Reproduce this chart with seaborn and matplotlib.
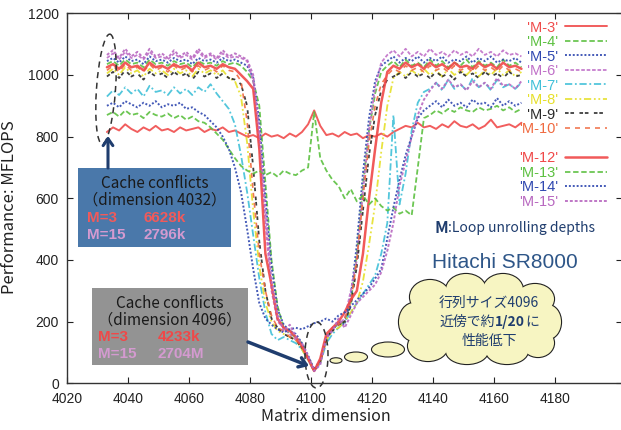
import matplotlib
matplotlib.use("Agg")
import matplotlib.pyplot as plt
import seaborn as sns
from matplotlib.patches import Ellipse, Rectangle, FancyArrowPatch
from matplotlib.lines import Line2D
from matplotlib import font_manager

# sample points (matrix dimension), every second value
dims = list(range(4033, 4170, 2))

m3 = [815, 830, 820, 840, 825, 815, 830, 820, 835, 820, 825, 815, 830, 820, 825, 830, 815, 825, 820, 830, 815,
      820, 810, 800, 805, 795, 810, 800, 805, 795, 810, 800, 815, 840, 885, 835, 805, 810, 800, 815, 805, 810,
      795, 805, 800, 810, 800, 815,
      825, 835, 830, 845, 830, 835, 825, 840, 830, 850, 835, 830, 840, 825, 835, 855, 830, 835, 840, 830, 845]
m4 = [1035, 1045, 1030, 1050, 1035, 1040, 1025, 1050, 1035, 1040, 1030, 1045, 1035, 1040, 1025, 1045, 1035,
      1040, 1030, 1045, 1035, 1040,
      1030, 1010, 980, 900, 650, 400, 250, 180, 160, 150, 130, 85, 45, 70, 140, 180, 190, 200, 260, 420, 640,
      820, 940, 1010,
      1030, 1045, 1025, 1050, 1030, 1040, 1025, 1050, 1030, 1045, 1025, 1040, 1030, 1050, 1025, 1045, 1030,
      1040, 1025, 1050, 1030, 1040, 1025]
m5 = [1045, 1055, 1040, 1060, 1045, 1050, 1035, 1060, 1045, 1050, 1040, 1055, 1045, 1050, 1035, 1055, 1045,
      1050, 1040, 1055, 1045, 1050,
      1040, 1030, 990, 850, 600, 380, 240, 190, 170, 160, 130, 90, 45, 75, 150, 170, 200, 190, 280, 450, 680,
      860, 980, 1030,
      1045, 1060, 1040, 1055, 1045, 1060, 1040, 1055, 1045, 1060, 1040, 1050, 1045, 1060, 1040, 1055, 1045,
      1060, 1040, 1050, 1045, 1055, 1040]
m6 = [1055, 1070, 1050, 1075, 1055, 1065, 1050, 1075, 1055, 1060, 1050, 1070, 1055, 1065, 1050, 1075, 1055,
      1065, 1050, 1070, 1055, 1060,
      1055, 1045, 980, 780, 520, 300, 200, 180, 160, 140, 120, 80, 40, 70, 140, 180, 190, 210, 300, 400, 620,
      820, 960, 1040,
      1065, 1080, 1060, 1085, 1060, 1075, 1060, 1085, 1065, 1075, 1060, 1080, 1065, 1075, 1060, 1085, 1065,
      1075, 1060, 1080, 1065, 1070, 1060]
m7 = [930, 950, 935, 960, 940, 955, 930, 965, 945, 950, 935, 960, 940, 955, 935, 960, 945, 970,
      940, 915, 890, 840, 740, 620, 480, 340, 230, 160, 140, 150, 140, 130, 110, 75, 40, 65, 130, 160, 180,
      200, 230, 260, 290, 320, 350, 420, 520, 870, 580, 680, 820, 910, 945,
      955, 975, 950, 985, 955, 970, 950, 990, 960, 975, 950, 985, 960, 970, 955, 975]
m8 = [1005, 1020, 1000, 1025, 1005, 1015, 995, 1020, 1005, 1015, 1000, 1020, 1005, 1015, 995, 1020, 1005,
      1015, 1000, 1015, 990, 980,
      930, 780, 560, 380, 260, 200, 170, 160, 150, 140, 110, 75, 40, 70, 140, 170, 180, 200, 230, 260, 330,
      450, 580, 750, 900, 990,
      1010, 995, 1015, 1000, 1020, 1000, 1015, 995, 1020, 1000, 1015, 1000, 1020, 995, 1015, 1000, 1020, 1000,
      1015, 995, 1010]
m9 = [995, 1010, 990, 1015, 995, 1005, 985, 1010, 995, 1005, 990, 1010, 995, 1005, 985, 1010, 995, 1005,
      990, 1005, 990, 985,
      970, 900, 700, 460, 300, 210, 180, 160, 150, 140, 115, 80, 40, 70, 150, 170, 190, 200, 250, 380, 560,
      740, 870, 950, 985, 995,
      1005, 990, 1010, 995, 1005, 990, 1010, 995, 1005, 985, 1010, 995, 1005, 990, 1010, 995, 1005, 990, 1010,
      995, 1000]
m10 = [1015, 1030, 1010, 1035, 1015, 1025, 1010, 1035, 1015, 1025, 1010, 1030, 1015, 1025, 1010, 1030, 1015,
       1025, 1010, 1030, 1015, 1010,
       980, 850, 620, 420, 300, 220, 180, 170, 150, 140, 120, 80, 40, 70, 150, 180, 190, 210, 260, 400, 600,
       780, 900, 970, 1000,
       1020, 1010, 1030, 1015, 1025, 1010, 1030, 1015, 1025, 1010, 1030, 1015, 1025, 1010, 1030, 1015, 1025,
       1010, 1030, 1015, 1020, 1010]
m12 = [1025, 1035, 1020, 1040, 1025, 1030, 1015, 1040, 1025, 1030, 1020, 1035, 1025, 1030, 1015, 1040, 1025,
       1030, 1020, 1035, 1025, 1020,
       1000, 980, 955, 760, 420, 320, 210, 180, 170, 150, 120, 80, 40, 80, 160, 180, 200, 230, 270, 300, 420,
       600, 760, 910, 1010,
       1030, 1020, 1040, 1025, 1035, 1020, 1040, 1025, 1035, 1020, 1040, 1025, 1030, 1020, 1040, 1025, 1035,
       1020, 1040, 1025, 1030, 1020]
m13 = [870, 880, 865, 885, 870, 875, 860, 880, 870, 865, 875, 860, 870, 855, 865,
       850, 845, 830, 810, 790, 760, 730, 705, 690, 680, 690, 675, 685, 670, 690, 680, 675, 690, 700, 880, 730,
       690, 660, 640, 600, 630, 590, 610, 580, 600, 575, 560, 570, 550, 560, 545, 700, 860,
       870, 885, 875, 890, 880, 895, 885, 880, 895, 885, 890, 900, 885, 895, 880, 890]
m14 = [900, 910, 895, 915, 905, 895, 910, 900, 915, 895, 905, 900, 910, 890,
       895, 880, 870, 850, 830, 800, 760, 700, 620, 500, 370, 260, 210, 190, 175, 165, 175, 180, 175, 185, 195,
       200, 210, 200, 220, 230, 250, 270, 290, 310, 340, 370, 470, 570, 660, 740, 800, 860, 885,
       900, 915, 895, 920, 900, 910, 895, 920, 905, 910, 895, 925, 900, 915, 900, 910]
m15 = [1065, 1080, 1055, 1085, 1060, 1075, 1055, 1085, 1060, 1070, 1055, 1080, 1060, 1075, 1055, 1085, 1060,
       1070, 1055, 1080, 1060, 1070,
       1060, 1050, 1000, 820, 560, 330, 220, 170, 190, 150, 130, 90, 40, 60, 150, 170, 210, 180, 220, 260, 280,
       300, 320, 360, 430, 520, 640, 720, 800, 870, 920,
       950, 975, 955, 985, 960, 970, 950, 980, 960, 975, 955, 990, 965, 970, 955, 980]

labels = ["'M-3'", "'M-4'", "'M-5'", "'M-6'", "'M-7'", "'M-8'", "'M-9'", "'M-10'",
          "'M-12'", "'M-13'", "'M-14'", "'M-15'"]
series = [m3, m4, m5, m6, m7, m8, m9, m10, m12, m13, m14, m15]
colors = ["#f04c4c", "#5cc040", "#3048b0", "#c070c8", "#40c0d8", "#e6e02a", "#2a2a2a", "#f06a40",
          "#f04848", "#5cc040", "#3048b0", "#b868c0"]
styles = ["-", (0, (3, 1.5)), (0, (1, 1)), (0, (2, 1)), (0, (4, 1.5, 1, 1.5)),
          (0, (4, 1.5, 1, 1.5, 1, 1.5)), (0, (2, 1, 2, 3)), (0, (3, 3)),
          "-", (0, (3, 1.5)), (0, (1, 1)), (0, (1.5, 1))]
widths = [1.4, 1.3, 1.4, 1.3, 1.3, 1.3, 1.3, 1.2, 1.8, 1.3, 1.4, 1.4]

sns.set_style("ticks")
plt.rcParams["font.family"] = ["Liberation Sans", "DejaVu Sans"]
installed = {f.name for f in font_manager.fontManager.ttflist}
narrow = "Liberation Sans Narrow" if "Liberation Sans Narrow" in installed else "Liberation Sans"
jp = ["Noto Sans CJK JP", "DejaVu Sans"]
navy = "#1f3d6e"

fig = plt.figure(figsize=(6.21, 4.30), dpi=100)
ax = fig.add_axes([67.3 / 621, (430 - 383.3) / 430, (622 - 67.3) / 621, 370 / 430])

for lab, vals, c, ls, lw in zip(labels, series, colors, styles, widths):
    sns.lineplot(x=dims, y=vals, color=c, linestyle=ls, linewidth=lw, alpha=0.9,
                 estimator=None, ax=ax, label=lab)

ax.set_xlim(4020, 4202)
ax.set_ylim(0, 1200)
ax.set_xticks(range(4020, 4181, 20))
ax.set_yticks(range(0, 1201, 200))
ax.tick_params(direction="in", length=4, width=0.8, top=True, right=True,
               labelsize=10, pad=6, colors="#222222")
for lab in ax.get_xticklabels() + ax.get_yticklabels():
    lab.set_family(narrow)
for sp in ax.spines.values():
    sp.set_linewidth(1.0)
    sp.set_color("#333333")

ax.set_xlabel("Matrix dimension", fontsize=11.5, family=jp, color="#222222")
ax.set_ylabel("Performance: MFLOPS", fontsize=12, family=jp, color="#222222")
ax.xaxis.set_label_coords(0.466, -0.066)
ax.yaxis.set_label_coords(-0.088, 0.476)

# gnuplot style key, labels right aligned (figure space pads the short ones),
# with an empty row between M-10 and M-12
handles = list(ax.get_lines())
blank = Line2D([], [], color="none")
handles = handles[:8] + [blank] + handles[8:]
keys = [("\u2007" + k if len(k) == 5 else k) for k in labels]
keys = keys[:8] + [" "] + keys[8:]
leg = ax.legend(handles, keys, loc="upper right", bbox_to_anchor=(607 / 621, (430 - 20.5) / 430),
                bbox_transform=fig.transFigure, frameon=False, markerfirst=False,
                labelcolor="linecolor", handlelength=2.9, handletextpad=0.45, labelspacing=0.035,
                borderpad=0, borderaxespad=0, prop={"family": narrow, "size": 10.5})

# overlay in pixel coordinates for annotations
ov = fig.add_axes([0, 0, 1, 1], zorder=5)
ov.set_xlim(0, 621)
ov.set_ylim(430, 0)
ov.axis("off")
ov.patch.set_alpha(0)

ov.add_patch(Ellipse((106, 89), 19, 110, angle=4, fill=False, ec="#333333", lw=1.1, ls=(0, (4, 3))))
ov.add_patch(Ellipse((316.5, 355), 23, 66, fill=False, ec="#333333", lw=1.1, ls=(0, (4, 3))))

ov.add_patch(Rectangle((78, 168), 153, 79, fc="#4a78aa", ec="none"))
ov.add_patch(Rectangle((92, 288), 156, 77, fc="#939393", ec="none"))

ov.add_patch(FancyArrowPatch((108, 168), (108, 136), arrowstyle="->,head_length=5,head_width=3.5",
                             color=navy, lw=2.2, shrinkA=0, shrinkB=0))
ov.add_patch(FancyArrowPatch((248, 342), (309, 366), arrowstyle="->,head_length=5,head_width=3.5",
                             color=navy, lw=2.5, shrinkA=0, shrinkB=0))

box_kw = dict(fontsize=11, family=jp, ha="center", va="center", color="#1a1a1a")
ov.text(155, 183, "Cache conflicts", **box_kw)
ov.text(155, 200, "（dimension 4032）", **box_kw)
ov.text(170, 303, "Cache conflicts", **box_kw)
ov.text(170, 320, "（dimension 4096）", **box_kw)
num_kw = dict(fontsize=11, family=narrow, fontweight="bold", va="center", ha="left")
ov.text(87, 218, "M=3", color="#f25a5a", **num_kw)
ov.text(143, 218, "6628k", color="#f25a5a", **num_kw)
ov.text(87, 235, "M=15", color="#d49ad0", **num_kw)
ov.text(143, 235, "2796k", color="#d49ad0", **num_kw)
ov.text(98, 337, "M=3", color="#f04848", **num_kw)
ov.text(158, 337, "4233k", color="#f04848", **num_kw)
ov.text(98, 354, "M=15", color="#d49ad0", **num_kw)
ov.text(158, 354, "2704M", color="#d49ad0", **num_kw)

# thought cloud
fill = "#f7f5c2"
bumps = [(480, 321, 130, 62), (430, 297, 40, 34), (466, 290, 40, 32), (503, 290, 40, 32),
         (535, 299, 38, 30), (414, 322, 30, 38), (548, 322, 26, 34), (428, 346, 40, 30),
         (467, 351, 42, 26), (507, 351, 42, 26), (538, 343, 32, 28)]
for bx, by, bw, bh in bumps:
    ov.add_patch(Ellipse((bx, by), bw, bh, fc=fill, ec="#222222", lw=1.6, zorder=2))
for bx, by, bw, bh in bumps:
    ov.add_patch(Ellipse((bx, by), bw, bh, fc=fill, ec="none", zorder=3))
for bx, by, bw, bh in [(388, 349.5, 33, 15), (356, 357, 23, 10), (336, 360.5, 12, 5.5)]:
    ov.add_patch(Ellipse((bx, by), bw, bh, fc=fill, ec="#222222", lw=0.8, zorder=3))

fig.canvas.draw()
rend = fig.canvas.get_renderer()


def put_runs(x, y, runs, center=True, color=navy):
    ts = [ov.text(0, y, s, fontsize=sz, fontweight=w, color=color, family=jp,
                  va="center", ha="left", zorder=4) for s, w, sz in runs]
    ws = [t.get_window_extent(rend).width for t in ts]
    x0 = x - sum(ws) / 2 if center else x
    for t, w in zip(ts, ws):
        t.set_x(x0)
        x0 += w


put_runs(489, 303, [("行列サイズ4096", "normal", 10)])
put_runs(489, 322, [("近傍で約", "normal", 10), ("1/20", "bold", 10), ("に", "normal", 10)])
put_runs(489, 341, [("性能低下", "normal", 10)])

put_runs(434, 228, [("M", "bold", 11.5), (":Loop unrolling depths", "normal", 10)], center=False)
ov.text(432, 262, "Hitachi SR8000", fontsize=15, color="#2e5688", va="center", ha="left",
        family=["Liberation Sans", "DejaVu Sans"])

fig.savefig("out.png", dpi=100)
